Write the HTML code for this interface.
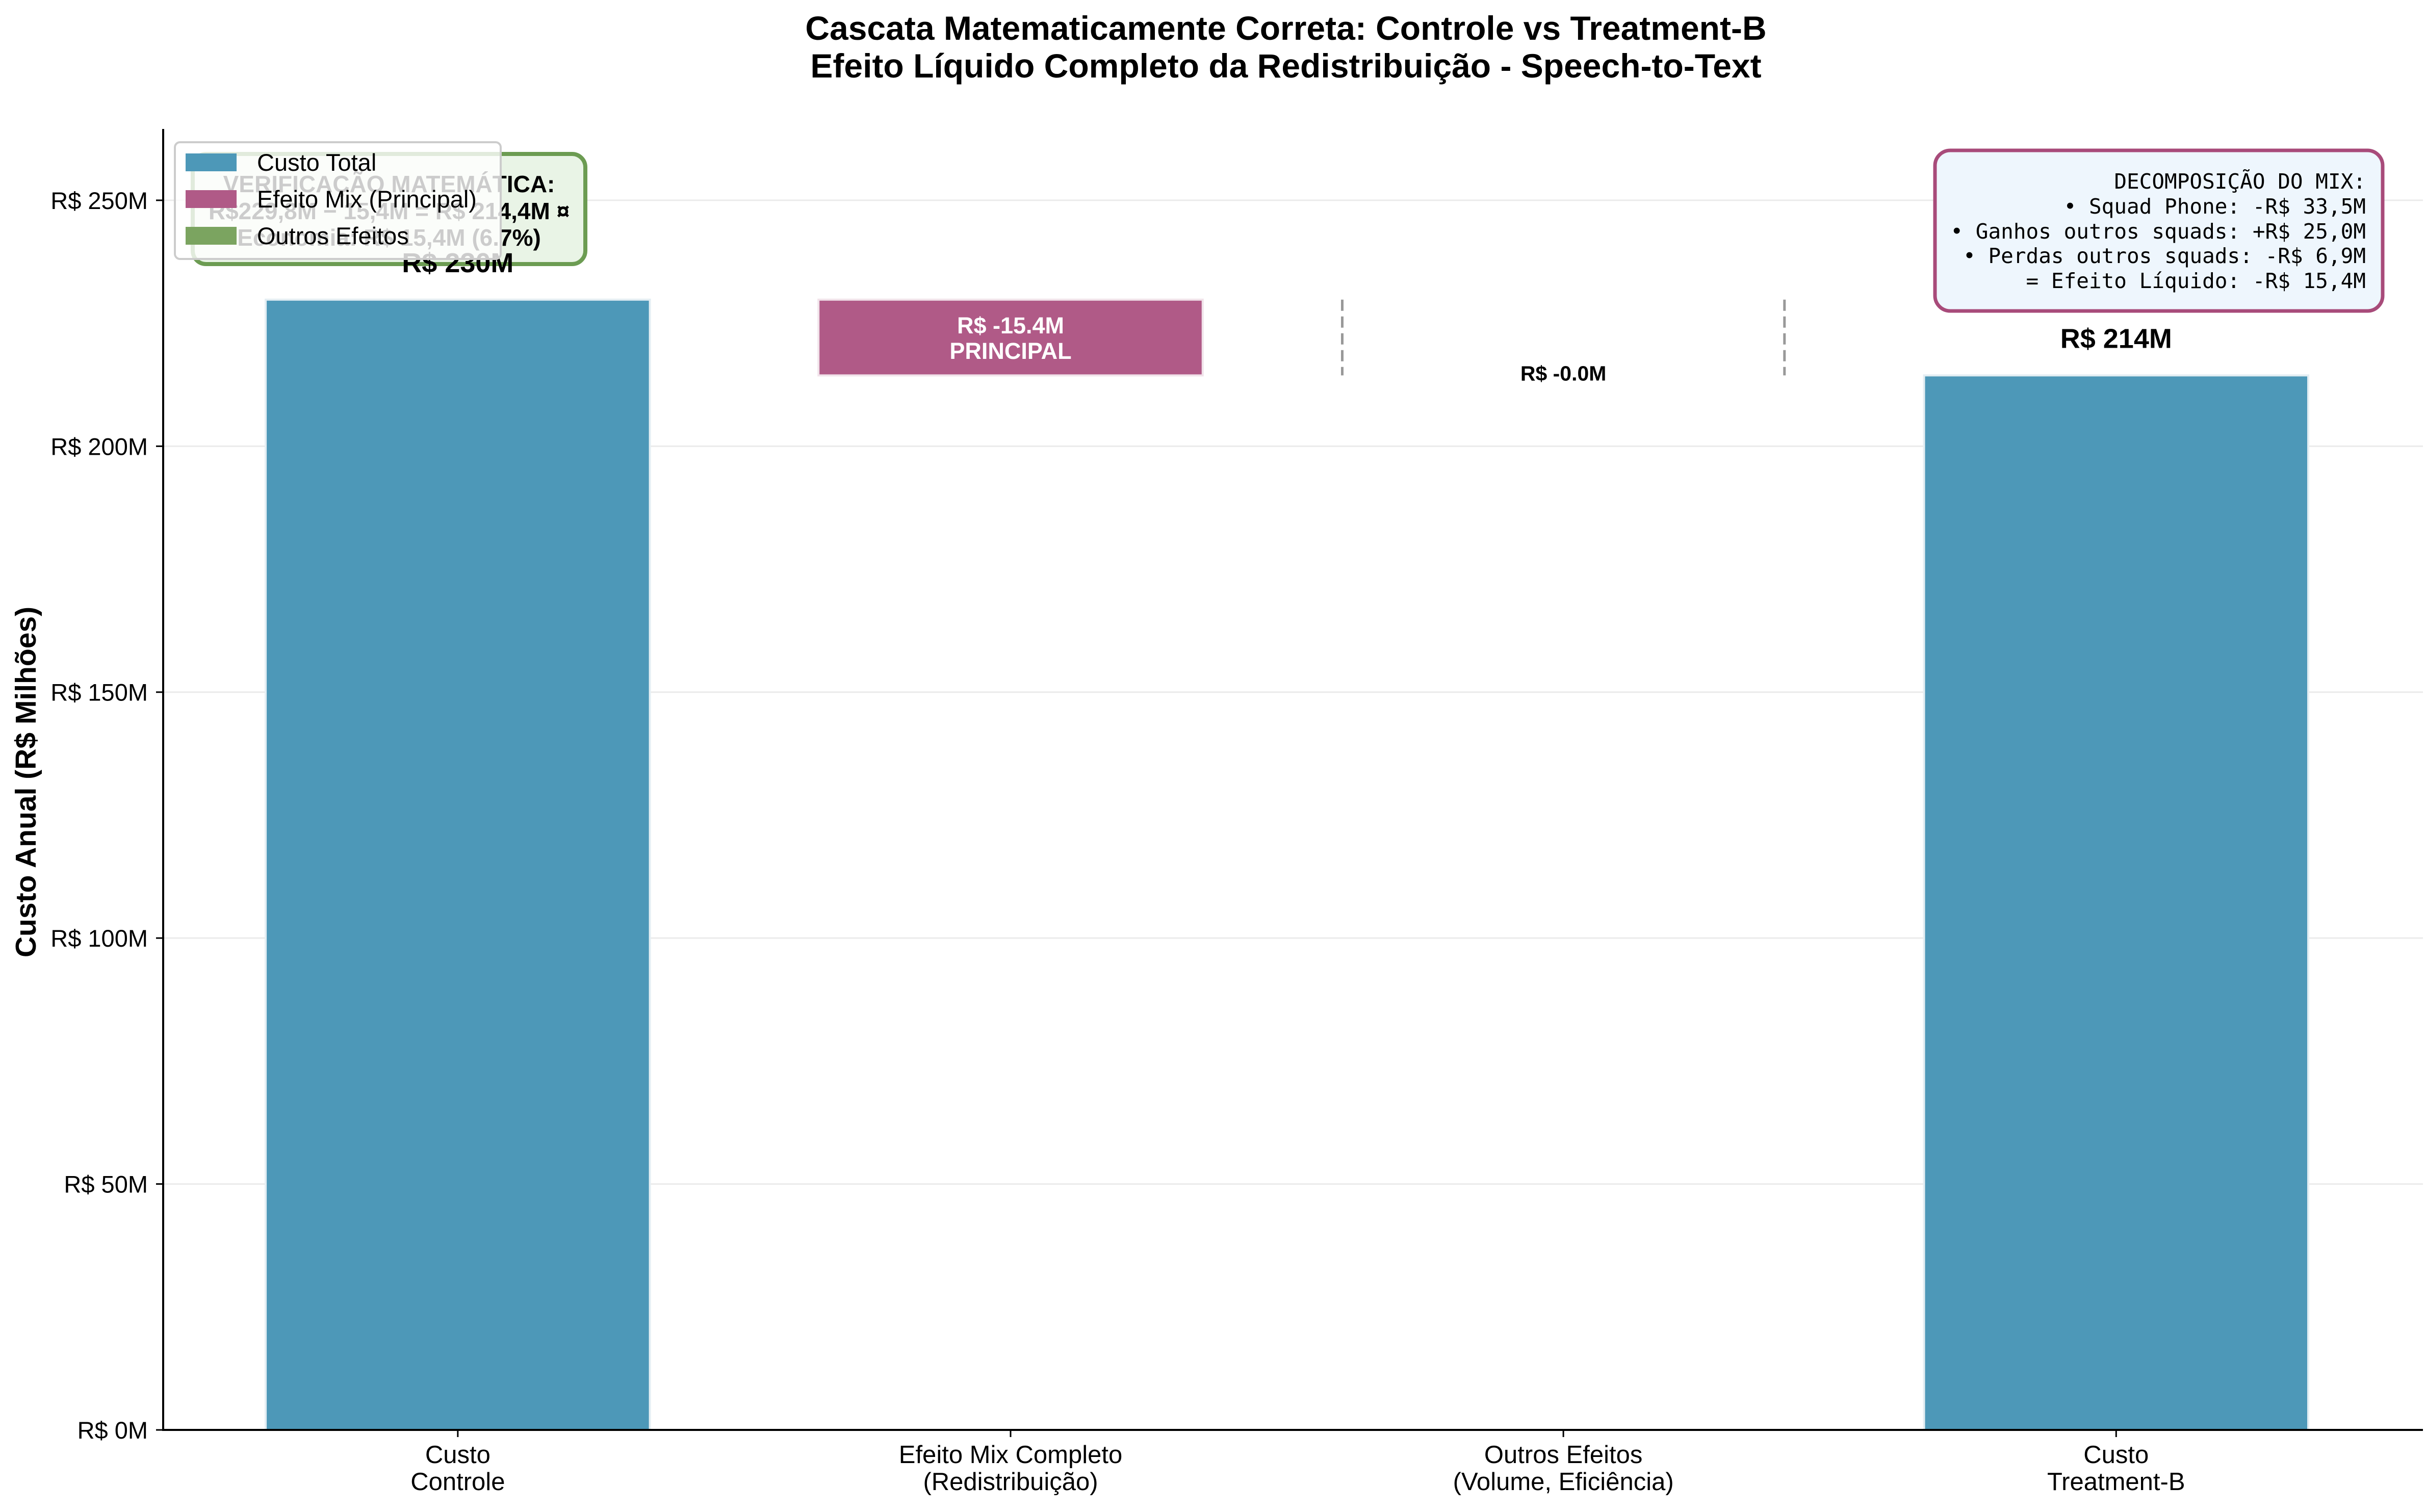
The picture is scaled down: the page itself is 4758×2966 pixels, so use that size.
<!DOCTYPE html>
<html><head><meta charset="utf-8"><style>
html,body{margin:0;padding:0;background:#fff;}
svg{display:block;font-family:"Liberation Sans",Arial,sans-serif;}
</style></head><body>
<svg id="chart" width="4758" height="2966" viewBox="0 0 4758 2966" xmlns="http://www.w3.org/2000/svg">
<text x="2522" y="78" font-size="66" font-weight="bold" text-anchor="middle">Cascata Matematicamente Correta: Controle vs Treatment-B</text>
<text x="2522" y="152" font-size="66" font-weight="bold" text-anchor="middle">Efeito Líquido Completo da Redistribuição - Speech-to-Text</text>
<g id="grid"></g>
<g id="bars"></g>
<g id="yaxis"></g>
<g id="xaxis"></g>
<text transform="translate(70,1534) rotate(-90)" font-size="57" font-weight="bold" text-anchor="middle">Custo Anual (R$ Milhões)</text>
<g>
<rect x="378" y="302" width="770" height="216" rx="26" fill="#e9f4e6" stroke="#6c9c52" stroke-width="8"/>
<text x="763" y="377" font-size="46" font-weight="bold" text-anchor="middle">VERIFICAÇÃO MATEMÁTICA:</text>
<text x="763" y="430" font-size="46" font-weight="bold" text-anchor="middle">R$229,8M − 15,4M = R$ 214,4M ¤</text>
<text x="763" y="482" font-size="46" font-weight="bold" text-anchor="middle">Economia: R$ 15,4M (6.7%)</text>
</g>
<text id="lbl0" font-size="54" font-weight="bold" text-anchor="middle"></text>
<g>
<rect x="343" y="279" width="639" height="229" rx="10" fill="#fff" fill-opacity="0.8" stroke="#cccccc" stroke-width="4"/>
<rect x="364" y="301" width="100" height="35" fill="#4d98b8"/>
<text x="504" y="335" font-size="47">Custo Total</text>
<rect x="364" y="373" width="100" height="35" fill="#b05a87"/>
<text x="504" y="407" font-size="47">Efeito Mix (Principal)</text>
<rect x="364" y="445" width="100" height="35" fill="#7ba460"/>
<text x="504" y="479" font-size="47">Outros Efeitos</text>
</g>
<g font-family="'DejaVu Sans Mono','Liberation Mono',monospace" font-size="41" text-anchor="end">
<rect x="3795" y="295" width="878" height="315" rx="30" fill="#eef6fd" stroke="#a84b7a" stroke-width="7"/>
<text x="4640" y="370">DECOMPOSIÇÃO DO MIX:</text>
<text x="4640" y="419">• Squad Phone: -R$ 33,5M</text>
<text x="4640" y="468">• Ganhos outros squads: +R$ 25,0M</text>
<text x="4640" y="516">• Perdas outros squads: -R$ 6,9M</text>
<text x="4640" y="565">= Efeito Líquido: -R$ 15,4M</text>
</g>
<script>
const categories = [["Custo","Controle"],["Efeito Mix Completo","(Redistribuição)"],["Outros Efeitos","(Volume, Eficiência)"],["Custo","Treatment-B"]];
const controlValue = 229.8;
const mixEffect = -15.4;
const otherEffect = -0.0;
const treatmentValue = 214.4;
const yTicks = [0,50,100,150,200,250];
const yTickLabels = ["R$ 0M","R$ 50M","R$ 100M","R$ 150M","R$ 200M","R$ 250M"];

const NS="http://www.w3.org/2000/svg";
const X0=320, X1=4752, Y0=2805, Ytop=253;
const xMin=-0.533, xMax=3.555, yMax=264.5;
function xs(v){return X0+(v-xMin)/(xMax-xMin)*(X1-X0);}
function ys(v){return Y0-(v/yMax)*(Y0-Ytop);}
function mk(tag,attrs,parent){const e=document.createElementNS(NS,tag);for(const k in attrs)e.setAttribute(k,attrs[k]);parent.appendChild(e);return e;}
const bw=0.695;
const grid=document.getElementById('grid'), bars=document.getElementById('bars'), ya=document.getElementById('yaxis'), xa=document.getElementById('xaxis');
yTicks.forEach((t,i)=>{
  const g=mk('line',{x1:X0,x2:X1,y1:ys(t),y2:ys(t),stroke:'#ebebeb','stroke-width':3},grid);
  
  
  const tk=mk('line',{x1:X0-14,x2:X0,y1:ys(t),y2:ys(t),stroke:'#000','stroke-width':3},ya);
  
  
  const tl=mk('text',{x:X0-30,y:ys(t)+17,'font-size':47,'text-anchor':'end'},ya);
  
  
  tl.textContent=yTickLabels[i];
});
function bar(i,lo,hi,fill,name){
  const r=mk('rect',{x:xs(i-bw/2),y:ys(hi),width:xs(i+bw/2)-xs(i-bw/2),height:ys(lo)-ys(hi),fill:fill,stroke:'#e4eef3','stroke-width':4},bars);
  
  
  return r;
}
bar(0,0,controlValue,'#4d98b8','bar-custo-controle');
const mixLo=controlValue+mixEffect;
const mb=bar(1,mixLo,controlValue,'#b05a87','bar-efeito-mix');
mb.setAttribute('stroke','#f1e3ea');
const mid=(controlValue+mixLo)/2;
const ml1=mk('text',{x:xs(1),y:ys(mid)-8,'font-size':45,'font-weight':'bold',fill:'#fff','text-anchor':'middle'},bars);


ml1.textContent='R$ '+mixEffect.toFixed(1)+'M';
const ml2=mk('text',{x:xs(1),y:ys(mid)+42,'font-size':45,'font-weight':'bold',fill:'#fff','text-anchor':'middle'},bars);


ml2.textContent='PRINCIPAL';
const oLo=mixLo+otherEffect;
[-0.4,0.4].forEach(d=>{
  const l=mk('line',{x1:xs(2+d),x2:xs(2+d),y1:ys(controlValue),y2:ys(oLo),stroke:'#999','stroke-width':5,'stroke-dasharray':'22,11'},bars);
  
  
});
const ol=mk('text',{x:xs(2),y:ys(oLo)+10,'font-size':41,'font-weight':'bold','text-anchor':'middle'},bars);


ol.textContent='R$ -'+Math.abs(otherEffect).toFixed(1)+'M';
bar(3,0,treatmentValue,'#4d98b8','bar-custo-treatment');
const tl3=mk('text',{x:xs(3),y:ys(treatmentValue)-54,'font-size':54,'font-weight':'bold','text-anchor':'middle'},bars);


tl3.textContent='R$ '+Math.round(treatmentValue)+'M';
const l0=document.getElementById('lbl0');
l0.setAttribute('x',xs(0)); l0.setAttribute('y',ys(controlValue)-54);
l0.textContent='R$ '+Math.round(controlValue)+'M';
categories.forEach((c,i)=>{
  const tk=mk('line',{x1:xs(i),x2:xs(i),y1:Y0,y2:Y0+14,stroke:'#000','stroke-width':3},xa);
  
  
  c.forEach((s,j)=>{
    const t=mk('text',{x:xs(i),y:2870+j*53,'font-size':49,'text-anchor':'middle'},xa);
    
    
    t.textContent=s;
  });
});
const sl=mk('line',{x1:X0,x2:X0,y1:Ytop,y2:Y0+2,stroke:'#000','stroke-width':4},ya);


const sb=mk('line',{x1:X0-2,x2:X1,y1:Y0,y2:Y0,stroke:'#000','stroke-width':4},xa);


</script>
</svg>
</body></html>
